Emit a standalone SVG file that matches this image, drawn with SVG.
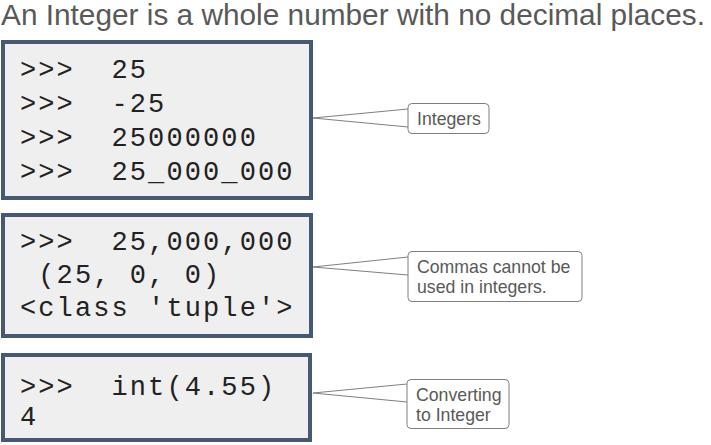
<svg xmlns="http://www.w3.org/2000/svg" width="711" height="445" viewBox="0 0 711 445">
<style>
.title{font-family:"Liberation Sans",Arial,sans-serif;font-size:29.5px;fill:#595959}
.box{fill:#efefef;stroke:#475873;stroke-width:4}
.code{font-family:"Liberation Mono","Courier New",monospace;font-size:27px;letter-spacing:2.1px;fill:#222;white-space:pre}
.call{fill:#ffffff;stroke:#7f7f7f;stroke-width:1}
.ptr{fill:none;stroke:#7f7f7f;stroke-width:1}
.ct{font-family:"Liberation Sans",Arial,sans-serif;font-size:17.7px;fill:#595959}
</style>
<rect width="711" height="445" fill="#ffffff"/>
<text class="title" x="1" y="25" textLength="704" lengthAdjust="spacingAndGlyphs">An Integer is a whole number with no decimal places.</text>
<g id="connectors">
<path class="ptr" d="M408,109 L313,118 L408,127"/>
<path class="ptr" d="M408,257 L313,267 L408,275"/>
<path class="ptr" d="M407,384 L313,393 L407,402"/>
</g>
<g id="box1">
<rect class="box" x="3" y="42" width="308" height="156"/>
<text class="code" xml:space="preserve"><tspan x="20" y="78">&gt;&gt;&gt;  25</tspan><tspan x="20" y="112">&gt;&gt;&gt;  -25</tspan><tspan x="20" y="146">&gt;&gt;&gt;  25000000</tspan><tspan x="20" y="180">&gt;&gt;&gt;  25_000_000</tspan></text>
</g>
<g id="box2">
<rect class="box" x="3" y="215" width="308" height="121"/>
<text class="code" xml:space="preserve"><tspan x="20" y="250">&gt;&gt;&gt;  25,000,000</tspan><tspan x="20" y="283"> (25, 0, 0)</tspan><tspan x="20" y="316">&lt;class 'tuple'&gt;</tspan></text>
</g>
<g id="box3">
<rect class="box" x="3" y="355" width="307" height="85"/>
<text class="code" xml:space="preserve"><tspan x="20" y="395">&gt;&gt;&gt;  int(4.55)</tspan><tspan x="20" y="425">4</tspan></text>
</g>
<g id="callout1">
<rect class="call" x="408" y="103.5" width="81" height="30" rx="4"/>
<text class="ct" x="417" y="125">Integers</text>
</g>
<g id="callout2">
<rect class="call" x="408" y="251.5" width="174" height="50" rx="4"/>
<text class="ct"><tspan x="417" y="273">Commas cannot be</tspan><tspan x="417" y="293">used in integers.</tspan></text>
</g>
<g id="callout3">
<rect class="call" x="407" y="379.5" width="102" height="49" rx="4"/>
<text class="ct"><tspan x="416" y="401">Converting</tspan><tspan x="416" y="421">to Integer</tspan></text>
</g>
</svg>
